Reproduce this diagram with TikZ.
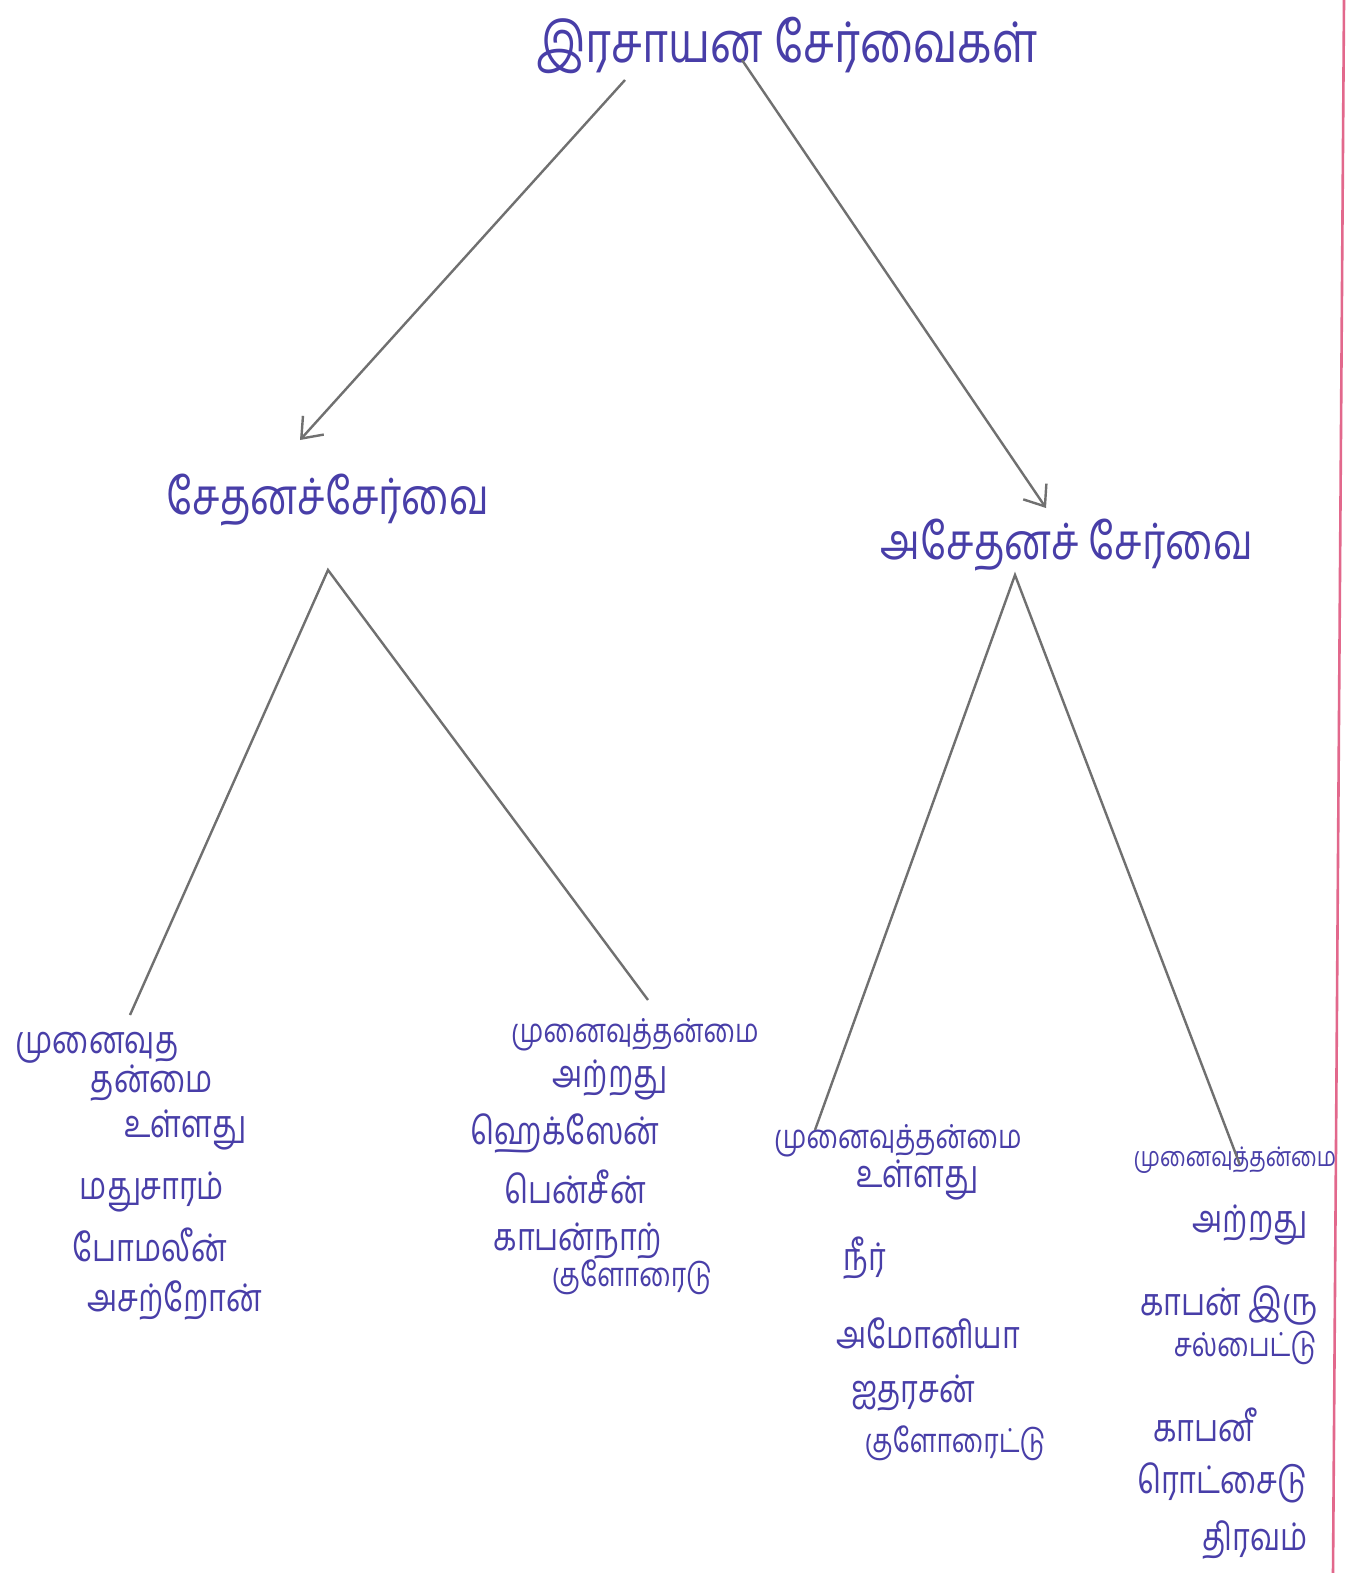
\documentclass[tikz,border=0pt]{standalone}
\usepackage{fontspec}
\newfontfamily\tamil[Script=Tamil, FakeStretch=0.8]{Hind Madurai}
\usetikzlibrary{arrows.meta}

\definecolor{inkblue}{RGB}{72,62,168}
\definecolor{pencil}{RGB}{112,112,112}
\definecolor{marginred}{RGB}{226,104,140}

\tikzset{
  leaf/.style={text=inkblue, inner sep=0pt, font=\tamil\fontsize{19}{22}\selectfont},
  longleaf/.style={leaf, font=\tamil\fontsize{16.5}{20}\selectfont},
  tightleaf/.style={leaf, font=\tamil\fontsize{13.5}{16}\selectfont},
  toptext/.style={leaf, font=\tamil\fontsize{28}{32}\selectfont},
  midtext/.style={leaf, font=\tamil\fontsize{25}{30}\selectfont},
  branch/.style={pencil, line width=1.2pt},
  arrowline/.style={branch, -{Straight Barb[length=9pt,width=14pt]}}
}

\begin{document}
\begin{tikzpicture}[x=0.5pt, y=-0.5pt]
    \useasboundingbox[fill=white] (0,0) rectangle (1352,1573);

    % margin line of the paper
    \draw[marginred, line width=1.3pt] (1344,0) -- (1333,1573);

    \node[toptext] (title) at (787,45) {இரசாயன சேர்வைகள்};
    \node[midtext] (org) at (328,500) {சேதனச்சேர்வை};
    \node[midtext] (inorg) at (1067,545) {அசேதனச் சேர்வை};

    \coordinate (titleL) at (625,80);
    \coordinate (titleR) at (742,60);
    \coordinate (orgtip) at (300,440);
    \coordinate (inorgtip) at (1046,508);
    \coordinate (orgfork) at (328,570);
    \coordinate (inorgfork) at (1015,575);

    % left group
    \node[leaf] (a1) at (97,1048) {முனைவுத};
    \node[leaf] (a2) at (152,1083) {தன்மை};
    \node[leaf] (a3) at (185,1130) {உள்ளது};
    \node[leaf] (a4) at (152,1192) {மதுசாரம்};
    \node[leaf] (a5) at (150,1245) {போமலீன்};
    \node[leaf] (a6) at (175,1300) {அசற்றோன்};

    % second group
    \node[longleaf] (b1) at (635,1035) {முனைவுத்தன்மை};
    \node[leaf] (b2) at (610,1080) {அற்றது};
    \node[leaf] (b3) at (565,1133) {ஹெக்ஸேன்};
    \node[leaf] (b4) at (575,1187) {பென்சீன்};
    \node[leaf] (b5) at (578,1241) {காபன்நாற்};
    \node[longleaf] (b6) at (632,1277) {குளோரைடு};

    % third group
    \node[longleaf] (c1) at (898,1141) {முனைவுத்தன்மை};
    \node[leaf] (c2) at (917,1180) {உள்ளது};
    \node[leaf] (c3) at (865,1258) {நீர்};
    \node[leaf] (c4) at (928,1333) {அமோனியா};
    \node[leaf] (c5) at (913,1393) {ஐதரசன்};
    \node[longleaf] (c6) at (955,1443) {குளோரைட்டு};

    % fourth group
    \node[tightleaf] (d1) at (1235,1160) {முனைவுத்தன்மை};
    \node[leaf] (d2) at (1250,1225) {அற்றது};
    \node[leaf] (d3) at (1229,1305) {காபன் இரு};
    \node[longleaf] (d4) at (1245,1348) {சல்பைட்டு};
    \node[leaf] (d5) at (1205,1425) {காபனீ};
    \node[leaf] (d6) at (1222,1483) {ரொட்சைடு};
    \node[leaf] (d7) at (1255,1540) {திரவம்};

    \coordinate (aend) at (130,1015);
    \coordinate (bend) at (648,1000);
    \coordinate (cend) at (815,1130);
    \coordinate (dend) at (1240,1165);

    \draw[arrowline] (titleL) -- (orgtip);
    \draw[arrowline] (titleR) -- (inorgtip);

    \draw[branch] (aend) -- (orgfork) -- (bend);
    \draw[branch] (cend) -- (inorgfork) -- (dend);
\end{tikzpicture}
\end{document}
